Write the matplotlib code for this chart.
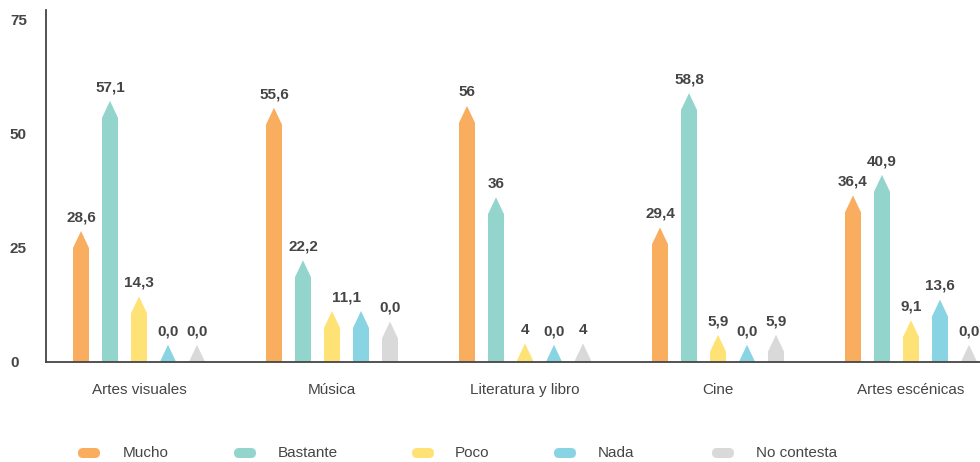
import numpy as np
import matplotlib.pyplot as plt
from matplotlib.patches import Polygon, FancyBboxPatch

# data
categories = ['Artes visuales', 'Música', 'Literatura y libro', 'Cine', 'Artes escénicas']
series = ['Mucho', 'Bastante', 'Poco', 'Nada', 'No contesta']
mucho = [28.6, 55.6, 56, 29.4, 36.4]
bastante = [57.1, 22.2, 36, 58.8, 40.9]
poco = [14.3, 11.1, 4, 5.9, 9.1]
nada = [0.0, 11.1, 0.0, 0.0, 13.6]
no_contesta = [0.0, 8.8, 4, 5.9, 0.0]  # Música bar is drawn ~9 high in the source although labelled 0,0

mucho_lbl = ['28,6', '55,6', '56', '29,4', '36,4']
bastante_lbl = ['57,1', '22,2', '36', '58,8', '40,9']
poco_lbl = ['14,3', '11,1', '4', '5,9', '9,1']
nada_lbl = ['0,0', '', '0,0', '0,0', '13,6']
no_contesta_lbl = ['0,0', '0,0', '4', '5,9', '0,0']

colors = ['#F9AD5E', '#93D4CC', '#FFE276', '#88D4E3', '#D9D9D9']
values = [mucho, bastante, poco, nada, no_contesta]
labels = [mucho_lbl, bastante_lbl, poco_lbl, nada_lbl, no_contesta_lbl]

txt = '#454545'
plt.rcParams['font.family'] = ['Liberation Sans', 'DejaVu Sans']

fig = plt.figure(figsize=(9.8, 4.62), dpi=100)
ax = fig.add_axes([46 / 980, 100.3 / 462, 1 - 46 / 980, 351.7 / 462])

step = 29 / 193
width = 16 / 193
cap = 3.7  # height of the pointed top

for j, (vals, lbls, col) in enumerate(zip(values, labels, colors)):
    for i, v in enumerate(vals):
        x = i + (j - 2) * step
        tip = max(v, cap)
        body = tip - cap
        pts = [(x - width / 2, 0), (x + width / 2, 0), (x + width / 2, body),
               (x, tip), (x - width / 2, body)]
        ax.add_patch(Polygon(pts, closed=True, facecolor=col, edgecolor='none'))
        if lbls[i] == '':
            continue
        lx = x
        # equal neighbour without its own label -> one label centred over both
        if j + 1 < len(values) and labels[j + 1][i] == '' and values[j + 1][i] == v:
            lx = x + step / 2
        ax.annotate(lbls[i], (lx, tip), xytext=(0, 7), textcoords='offset points',
                    ha='center', va='baseline', fontsize=11, fontweight='bold', color=txt)

ax.set_xlim((46 - 139) / 193, (980 - 139) / 193)
ax.set_ylim(0, 77)
ax.set_yticks([0, 25, 50, 75])
ax.set_xticks(range(len(categories)))
ax.set_xticklabels(categories)
ax.tick_params(axis='x', length=0, pad=15, labelsize=11, labelcolor=txt)
ax.tick_params(axis='y', length=0, pad=26, labelsize=11, labelcolor=txt)
for t in ax.get_yticklabels():
    t.set_ha('left')
    t.set_fontweight('bold')

for s in ['top', 'right']:
    ax.spines[s].set_visible(False)
for s in ['left', 'bottom']:
    ax.spines[s].set_color('#444444')
    ax.spines[s].set_linewidth(1.3)

# legend drawn by hand: rounded pills followed by the series name (pixel positions / 100 = inches)
pill_x = [89, 245, 423, 565, 723]
text_x = [123, 278, 455, 598, 756]
ly = 453
for name, col, px, tx in zip(series, colors, pill_x, text_x):
    fig.patches.append(FancyBboxPatch(((px - 11) / 100, (462 - ly - 5) / 100), 0.22, 0.10,
                                      boxstyle='round,pad=0,rounding_size=0.05',
                                      transform=fig.dpi_scale_trans, facecolor=col,
                                      edgecolor='none'))
    fig.text(tx / 980, (462 - ly) / 462, name, ha='left', va='center', fontsize=11, color=txt)

fig.savefig('out.png', dpi=100)
